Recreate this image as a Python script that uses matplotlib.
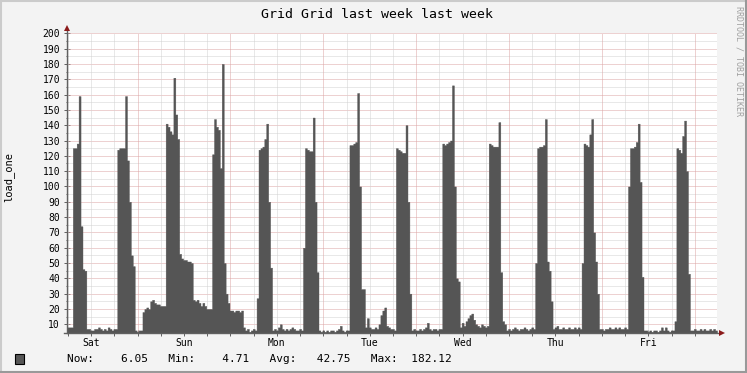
import numpy as np
import matplotlib
matplotlib.use("Agg")
import matplotlib.pyplot as plt
from matplotlib.patches import Rectangle
from matplotlib.lines import Line2D

# ---- data: load_one, one value per half hour over the week window ----
span_1 = [8, 8, 8, 125, 125, 128, 159, 74, 46, 45, 7,
          7, 6, 6, 7, 7, 8, 7, 6, 7, 6, 8, 7, 6, 7, 7,
          124, 125, 125, 125, 159, 117, 90, 55, 48, 6,
          5, 6, 6, 18, 20, 21, 20, 25, 26, 24, 23, 23]
span_2 = [22, 22, 22,
          141, 139, 136, 134, 171, 147, 131, 56, 53, 52, 52, 51, 51, 50,
          26, 25, 26, 24, 22, 24, 22, 20, 20,
          20, 121, 144, 139, 137, 112, 180, 50, 30, 24, 19, 19, 18, 19, 19, 18, 19, 8,
          6, 7, 5, 6]
span_3 = [7, 6,
          27, 124, 125, 126, 131, 141, 90, 47, 6,
          7, 6, 8, 10, 7, 6, 7, 6, 7, 8, 7, 6, 6, 7, 6,
          60, 125, 124, 123, 123, 145, 90, 44, 6,
          5, 6, 5, 6, 5, 6, 6, 5, 6, 7, 9, 6, 5]
span_4 = [6, 6,
          127, 127, 128, 129, 161, 100, 33, 33, 8,
          14, 8, 7, 7, 8, 7, 10, 16, 19, 21, 9, 8, 7, 7, 6,
          125, 124, 123, 122, 122, 140, 90, 30,
          6, 7, 6, 6, 7, 6, 7, 8, 11, 7, 6, 7, 7, 6]
span_5 = [7, 7,
          128, 127, 128, 129, 130, 166, 100, 40, 38,
          8, 11, 9, 12, 14, 16, 17, 13, 10, 9, 8, 10, 9, 8, 9,
          128, 127, 126, 126, 126, 142, 44, 12, 10, 6,
          7, 6, 7, 8, 7, 6, 7, 7, 8, 7, 6, 7]
span_6 = [8, 7,
          50, 125, 126, 126, 127, 144, 51, 45, 25, 7,
          8, 9, 7, 7, 8, 7, 7, 8, 7, 7, 8, 7, 8, 7,
          50, 128, 127, 126, 134, 144, 70, 51, 30, 7,
          7, 6, 7, 7, 8, 7, 7, 8, 7, 8, 7, 7]
span_7 = [8, 7,
          100, 125, 125, 126, 129, 141, 103, 41, 6,
          6, 5, 6, 5, 6, 6, 5, 6, 8, 6, 8, 6, 5, 6, 6,
          12, 125, 124, 122, 133, 143, 110, 43, 6,
          6, 7, 6, 6, 7, 6, 7, 6, 6, 7, 6, 7, 6]

day_labels = ["Sat", "Sun", "Mon", "Tue", "Wed", "Thu", "Fri"]
legend_names = ["Now:", "Min:", "Avg:", "Max:"]
legend_values = [6.05, 4.71, 42.75, 182.12]
y_ticks = list(range(10, 201, 10))
title = "Grid Grid last week last week"
ylabel = "load_one"

load_one = span_1 + span_2 + span_3 + span_4 + span_5 + span_6 + span_7
step_h = 0.5
first_midnight = 18.25   # hours after window start

# ---- figure ----
W, H = 747, 373
fig = plt.figure(figsize=(W / 100, H / 100), dpi=100, facecolor="#F3F3F3")
mono = "DejaVu Sans Mono"

ymin, ymax = 4.65, 200
top_px, bot_px, left_px, right_px = 33.3, 332.5, 67, 717
ax = fig.add_axes([left_px / W, (H - bot_px) / H, (right_px - left_px) / W,
                   (bot_px - top_px) / H])
ax.set_facecolor("white")

t = np.arange(len(load_one) + 1) * step_h
vals = np.array(load_one + [load_one[-1]], dtype=float)
ax.fill_between(t, vals, ymin, step="post", color="#555555", lw=0.3,
                edgecolor="#555555", zorder=4)

ax.set_xlim(0, 168)
ax.set_ylim(ymin, ymax)

minor_c = "#D2D2D2"
major_c = "#DDA5A5"
# horizontal grid
for v in np.arange(5, 201, 5):
    if v <= ymin:
        continue
    c = major_c if v % 10 == 0 else minor_c
    ax.axhline(v, color=c, lw=0.72, dashes=(1, 1), zorder=2)
# vertical grid
for h in np.arange(first_midnight % 6, 168.01, 6):
    k = (h - first_midnight) / 24
    c = major_c if abs(k - round(k)) < 1e-6 else minor_c
    ax.axvline(h, color=c, lw=0.72, dashes=(1, 1), zorder=2)

for s in ax.spines.values():
    s.set_visible(False)

# axis lines with arrows
axis_c = "#606060"
arrow_c = "#8B1A1A"
ax.plot([0, 0], [0, 1.0 + 4 / 299], transform=ax.transAxes, color=axis_c,
        lw=1.0, clip_on=False, zorder=5)
ax.plot([-3 / 650, 1 + 3 / 650], [0, 0], transform=ax.transAxes, color=axis_c,
        lw=1.0, clip_on=False, zorder=5)
ax.plot([0], [1.0 + 5 / 299], marker="^", ms=4.5, color=arrow_c,
        transform=ax.transAxes, clip_on=False, zorder=6, mew=0)
ax.plot([1 + 5 / 650], [0], marker=">", ms=4.5, color=arrow_c,
        transform=ax.transAxes, clip_on=False, zorder=6, mew=0)

# ticks
ax.set_yticks(y_ticks)
ax.set_yticklabels([str(v) for v in y_ticks], fontfamily=mono, fontsize=7)
ax.set_yticks(np.arange(15, 200, 10), minor=True)
label_pos = [first_midnight - 12 + 24 * k for k in range(7)]
ax.set_xticks(label_pos)
ax.set_xticklabels(day_labels, fontfamily=mono, fontsize=7)
ax.set_xticks([h for h in np.arange(first_midnight % 6, 168.01, 6)
               if all(abs(h - p) > 1e-6 for p in label_pos)], minor=True)
ax.tick_params(axis="y", which="major", direction="inout", length=4,
               width=0.7, color=axis_c, pad=3)
ax.tick_params(axis="y", which="minor", direction="inout", length=2,
               width=0.7, color=axis_c)
ax.tick_params(axis="x", which="both", direction="inout", length=4,
               width=0.7, color=axis_c, pad=2)

# texts
fig.text(377 / W, 1 - 14 / H, title, ha="center", va="center",
         fontfamily=mono, fontsize=9.5, color="black")
fig.text(9 / W, 1 - 177 / H, ylabel, ha="center", va="center", rotation=90,
         fontfamily=mono, fontsize=7.5, color="black")
fig.text(739 / W, 1 - 61 / H, "RRDTOOL / TOBI OETIKER", ha="center",
         va="center", rotation=270, fontfamily=mono, fontsize=6,
         color="#A0A0A0")

# legend
fig.add_artist(Rectangle((15 / W, 1 - 364 / H), 9 / W, 10 / H,
                         transform=fig.transFigure, facecolor="#555555",
                         edgecolor="black", lw=0.8))
legend_text = "%s    %.2f   %s    %.2f   %s   %.2f   %s  %.2f" % (
    legend_names[0], legend_values[0], legend_names[1], legend_values[1],
    legend_names[2], legend_values[2], legend_names[3], legend_values[3])
fig.text(67 / W, 1 - 359 / H, legend_text, ha="left", va="center",
         fontfamily=mono, fontsize=8, color="black")

# 3D border
lw = 1.5
fig.add_artist(Line2D([0, 1], [1 - 0.7 / H, 1 - 0.7 / H], transform=fig.transFigure,
                      color="#CBCBCB", lw=lw))
fig.add_artist(Line2D([0.7 / W, 0.7 / W], [0, 1], transform=fig.transFigure,
                      color="#CBCBCB", lw=lw))
fig.add_artist(Line2D([0, 1], [0.7 / H, 0.7 / H], transform=fig.transFigure,
                      color="#999999", lw=lw))
fig.add_artist(Line2D([1 - 0.7 / W, 1 - 0.7 / W], [0, 1], transform=fig.transFigure,
                      color="#999999", lw=lw))

fig.savefig("out.png", dpi=100, facecolor=fig.get_facecolor())
